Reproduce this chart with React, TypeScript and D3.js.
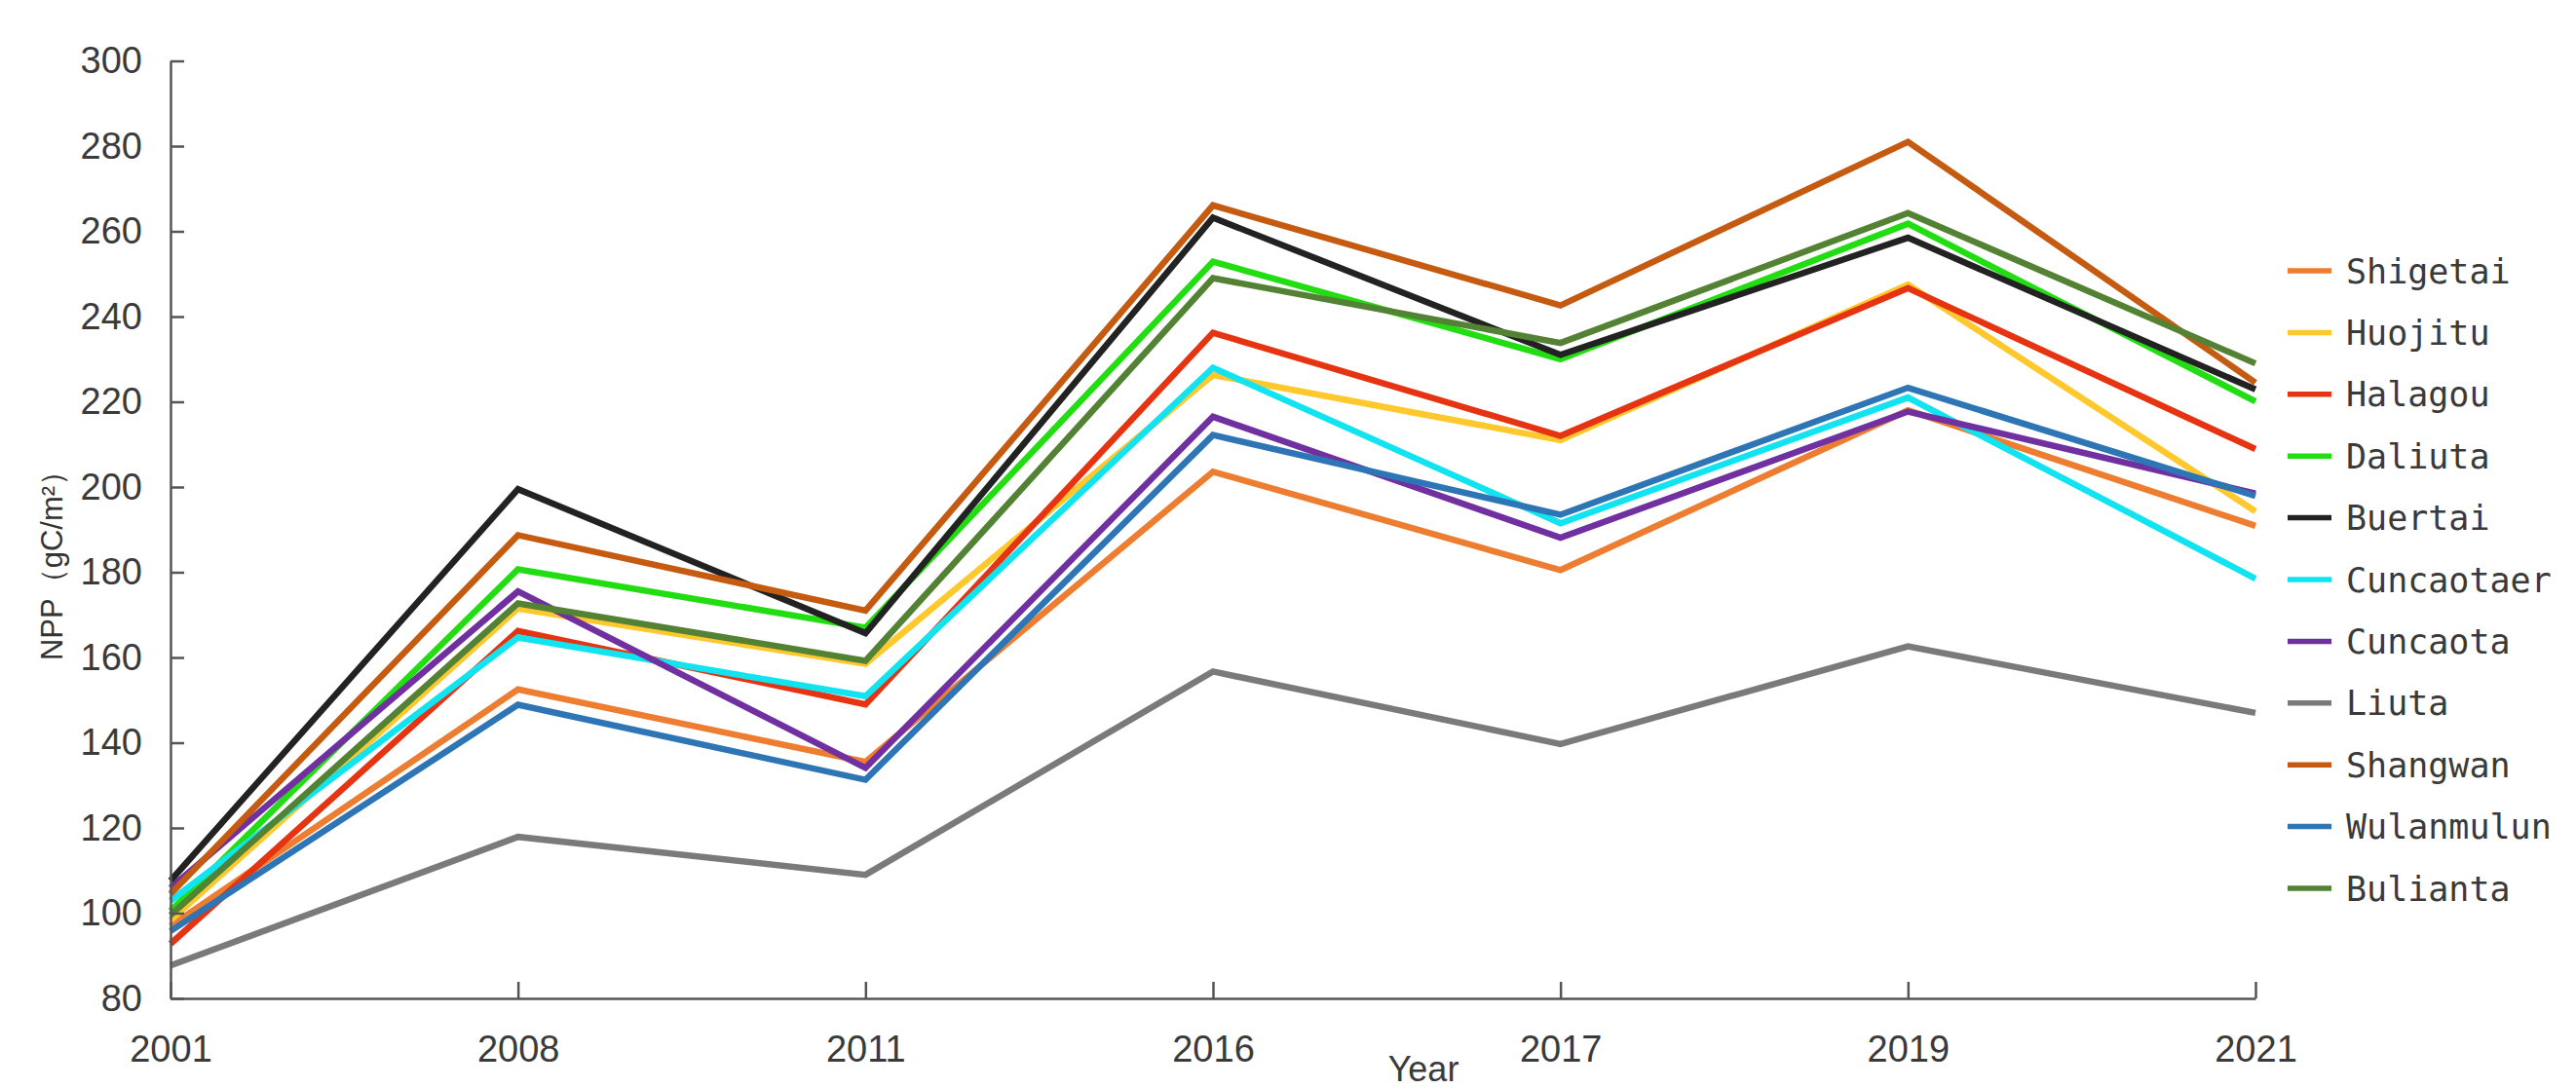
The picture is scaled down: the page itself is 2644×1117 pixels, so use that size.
import { useEffect, useRef } from 'react'
import * as d3 from 'd3'

const W = 2644
const H = 1117

const years = ['2001', '2008', '2011', '2016', '2017', '2019', '2021']
const yTicks = [80, 100, 120, 140, 160, 180, 200, 220, 240, 260, 280, 300]

const siteNames = [
  'Shigetai',
  'Huojitu',
  'Halagou',
  'Daliuta',
  'Buertai',
  'Cuncaotaer',
  'Cuncaota',
  'Liuta',
  'Shangwan',
  'Wulanmulun',
  'Bulianta',
]

const siteColors = [
  '#ED7D31',
  '#FFC82C',
  '#E63312',
  '#22DD11',
  '#222222',
  '#11E3F0',
  '#7030A0',
  '#7A7A7A',
  '#C55A11',
  '#2E75B6',
  '#548235',
]

// NPP per site, one value per year
const shigetai = [97, 152.5, 135.5, 203.6, 180.5, 218, 190.9]
const huojitu = [98.3, 171.5, 158.5, 226.3, 211, 247.5, 194.3]
const halagou = [92.8, 166.2, 149, 236.2, 212, 246.7, 208.9]
const daliuta = [100.5, 180.7, 167, 252.9, 230, 261.8, 220.1]
const buertai = [107.6, 199.5, 165.7, 263.2, 231, 258.5, 222.9]
const cuncaotaer = [102.9, 164.7, 150.9, 228, 191.5, 221, 178.5]
const cuncaota = [105.9, 175.5, 134.1, 216.5, 188.1, 217.7, 198.5]
const liuta = [87.7, 117.9, 109, 156.7, 139.7, 162.6, 147]
const shangwan = [104.5, 188.7, 171, 266.1, 242.6, 281, 224.5]
const wulanmulun = [95.8, 148.9, 131.3, 212.2, 193.5, 223.3, 197.9]
const bulianta = [99.5, 172.7, 159.2, 249, 233.8, 264.3, 229]

const seriesValues = [
  shigetai,
  huojitu,
  halagou,
  daliuta,
  buertai,
  cuncaotaer,
  cuncaota,
  liuta,
  shangwan,
  wulanmulun,
  bulianta,
]

const TICK_FONT = '"Liberation Sans", Arial, sans-serif'
const LEGEND_FONT = '"DejaVu Sans Mono", "Liberation Mono", monospace'
const TEXT_COLOR = '#3a3a3a'
const AXIS_COLOR = '#555555'

export default function App() {
  const svgRef = useRef<SVGSVGElement>(null)

  useEffect(() => {
    if (!svgRef.current) return
    const svg = d3.select(svgRef.current)
    svg.selectAll('*').remove()

    const x = d3.scalePoint<string>().domain(years).range([175, 2315])
    const y = d3.scaleLinear().domain([80, 300]).range([1025, 62.5])

    // Lines
    const line = d3
      .line<number>()
      .x((_, i) => x(years[i]) as number)
      .y((d) => y(d))

    svg
      .append('g')
      .selectAll('path')
      .data(seriesValues)
      .join('path')
      .attr('d', (d) => line(d))
      .attr('fill', 'none')
      .attr('stroke', (_, i) => siteColors[i])
      .attr('stroke-width', 6.5)
      .attr('stroke-linejoin', 'miter')

    // Y axis (ticks point inward)
    const yAxis = svg
      .append('g')
      .attr('transform', `translate(${x(years[0])},0)`)
      .call(
        d3
          .axisLeft(y)
          .tickValues(yTicks)
          .tickSize(-14)
          .tickSizeOuter(0)
          .tickPadding(29)
      )
    yAxis.select('.domain').attr('stroke', AXIS_COLOR).attr('stroke-width', 2.5)
    yAxis.selectAll('.tick line').attr('stroke', AXIS_COLOR).attr('stroke-width', 2.5)
    yAxis
      .selectAll('.tick text')
      .attr('fill', TEXT_COLOR)
      .attr('font-family', TICK_FONT)
      .attr('font-size', 38)

    // X axis
    const xAxis = svg
      .append('g')
      .attr('transform', `translate(0,${y(80)})`)
      .call(d3.axisBottom(x).tickSize(-17).tickSizeOuter(0).tickPadding(38))
    xAxis.select('.domain').attr('stroke', AXIS_COLOR).attr('stroke-width', 2.5)
    xAxis.selectAll('.tick line').attr('stroke', AXIS_COLOR).attr('stroke-width', 2.5)
    xAxis
      .selectAll('.tick text')
      .attr('fill', TEXT_COLOR)
      .attr('font-family', TICK_FONT)
      .attr('font-size', 38)

    // Axis titles
    svg
      .append('text')
      .attr('transform', `translate(64,573) rotate(-90)`)
      .attr('text-anchor', 'middle')
      .attr('font-family', TICK_FONT)
      .attr('font-size', 31)
      .attr('fill', '#333333')
      .text('NPP（gC/m²）')

    svg
      .append('text')
      .attr('x', 1461)
      .attr('y', 1110)
      .attr('text-anchor', 'middle')
      .attr('font-family', TICK_FONT)
      .attr('font-size', 36)
      .attr('fill', TEXT_COLOR)
      .text('Year')

    // Legend
    const legendY = d3
      .scalePoint<string>()
      .domain(siteNames)
      .range([278, 912])

    const legend = svg
      .append('g')
      .selectAll('g')
      .data(siteNames)
      .join('g')
      .attr('transform', (d) => `translate(2348,${legendY(d)})`)

    legend
      .append('line')
      .attr('x1', 0)
      .attr('x2', 45)
      .attr('stroke', (_, i) => siteColors[i])
      .attr('stroke-width', 5.5)

    legend
      .append('text')
      .attr('x', 60)
      .attr('dy', '0.36em')
      .attr('font-family', LEGEND_FONT)
      .attr('font-size', 35)
      .attr('fill', TEXT_COLOR)
      .text((d) => d)
  }, [])

  return (
    <svg
      ref={svgRef}
      width={W}
      height={H}
      style={{ position: 'absolute', left: 0, top: 0, background: '#ffffff', display: 'block' }}
    />
  )
}
